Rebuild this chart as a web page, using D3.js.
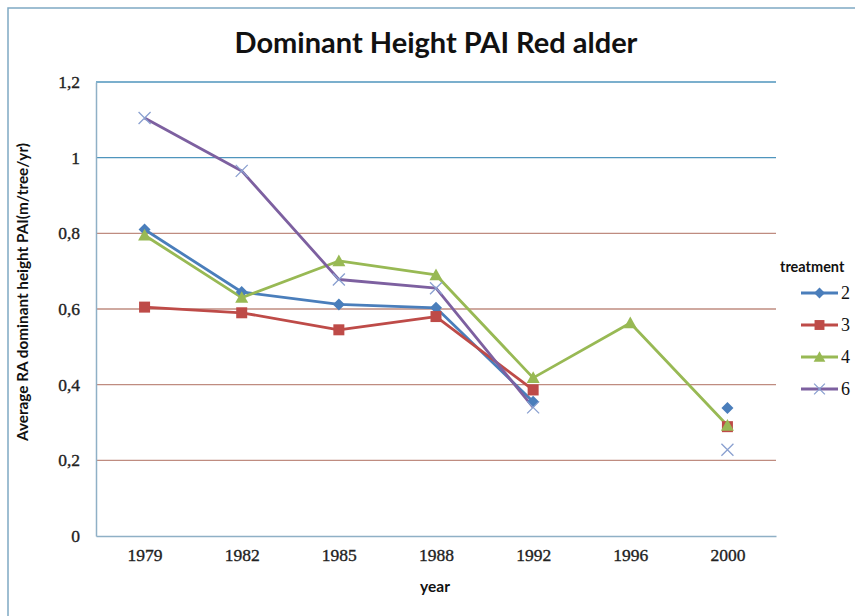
<!DOCTYPE html>
<html><head><meta charset="utf-8">
<script src="https://cdn.jsdelivr.net/npm/d3@7"></script>
<style>body{margin:0;background:#fff}</style>
</head><body>
<svg id="c" width="855" height="616"></svg>
<script>
const years = ["1979","1982","1985","1988","1992","1996","2000"];
const t2 = [0.81, 0.645, 0.612, 0.603, 0.355, null, 0.338];
const t3 = [0.605, 0.59, 0.545, 0.58, 0.386, null, 0.289];
const t4 = [0.795, 0.63, 0.727, 0.69, 0.418, 0.563, 0.292];
const t6 = [1.105, 0.965, 0.678, 0.655, 0.34, null, 0.228];
const seriesNames = ["2","3","4","6"];
const yTicks = [0, 0.2, 0.4, 0.6, 0.8, 1, 1.2];

const series = [
  {name: seriesNames[0], values: t2, color: "#4a7ebb", mcolor: "#4a7ebb", marker: "diamond"},
  {name: seriesNames[1], values: t3, color: "#be4b48", mcolor: "#be4b48", marker: "square"},
  {name: seriesNames[2], values: t4, color: "#98b954", mcolor: "#98b954", marker: "triangle"},
  {name: seriesNames[3], values: t6, color: "#7d60a0", mcolor: "#8aa0d0", marker: "x"}
];

const svg = d3.select("#c");
const L = 96, R = 776, T = 82, B = 536;
const x = d3.scalePoint().domain(years).range([L, R]).padding(0.5);
const y = d3.scaleLinear().domain([0, 1.2]).range([B, T]);

// outer frame
svg.append("rect").attr("x", 8).attr("y", 8).attr("width", 860).attr("height", 620)
  .attr("fill", "none").attr("stroke", "#7fa9c4").attr("stroke-width", 1.5);

// gridlines
svg.append("g").selectAll("line").data(yTicks.filter(d => d > 0)).join("line")
  .attr("x1", L).attr("x2", R).attr("y1", d => y(d)).attr("y2", d => y(d))
  .attr("stroke", d => d >= 1 ? "#4f95bd" : "#bf8c80").attr("stroke-width", 1.3);

// axes
const yAxis = d3.axisLeft(y).tickValues(yTicks).tickSize(0).tickPadding(16)
  .tickFormat(d => d3.format("")(+d.toFixed(1)).replace(".", ","));
const gy = svg.append("g").attr("transform", `translate(${L},0)`).call(yAxis);
gy.select(".domain").attr("stroke", "#8fb0c6").attr("stroke-width", 1.5);
gy.selectAll("text").attr("font-family", "Liberation Serif").attr("font-size", 17.5)
  .attr("fill", "#222").attr("stroke", "#222").attr("stroke-width", 0.35);

const xAxis = d3.axisBottom(x).tickSize(0).tickPadding(13);
const gx = svg.append("g").attr("transform", `translate(0,${B})`).call(xAxis);
gx.select(".domain").attr("stroke", "#8fb0c6").attr("stroke-width", 1.5);
gx.selectAll("text").attr("font-family", "Liberation Serif").attr("font-size", 17.5)
  .attr("fill", "#222").attr("stroke", "#222").attr("stroke-width", 0.35);

// lines
const line = d3.line().defined(d => d.v != null).x(d => x(d.yr)).y(d => y(d.v));
series.forEach(s => {
  const pts = years.map((yr, i) => ({yr, v: s.values[i]}));
  svg.append("path").datum(pts).attr("d", line).attr("fill", "none")
    .attr("stroke", s.color).attr("stroke-width", 2.8).attr("stroke-linejoin", "round");
});

function drawMarker(g, type, cx, cy, color, sc) {
  sc = sc || 1;
  if (type === "diamond") {
    const r = 6 * sc;
    g.append("path").attr("d", `M${cx},${cy-r}L${cx+r},${cy}L${cx},${cy+r}L${cx-r},${cy}Z`).attr("fill", color);
  } else if (type === "square") {
    const r = 5.5 * sc;
    g.append("rect").attr("x", cx - r).attr("y", cy - r).attr("width", 2*r).attr("height", 2*r).attr("fill", color);
  } else if (type === "triangle") {
    const r = 6.5 * sc;
    g.append("path").attr("d", `M${cx},${cy-r}L${cx+r},${cy+r*0.8}L${cx-r},${cy+r*0.8}Z`).attr("fill", color);
  } else {
    const r = 6 * sc;
    g.append("path").attr("d", `M${cx-r},${cy-r}L${cx+r},${cy+r}M${cx-r},${cy+r}L${cx+r},${cy-r}`)
      .attr("stroke", color).attr("stroke-width", 1.3).attr("fill", "none");
  }
}

const mg = svg.append("g");
series.forEach(s => {
  s.values.forEach((v, i) => {
    if (v == null) return;
    drawMarker(mg, s.marker, x(years[i]), y(v), s.mcolor);
  });
});

// title
svg.append("text").attr("x", 436).attr("y", 53).attr("text-anchor", "middle")
  .attr("font-family", "Lato").attr("font-weight", "bold").attr("font-size", 29)
  .attr("fill", "#111").text("Dominant Height PAI Red alder");

// axis titles
svg.append("text").attr("transform", "translate(28,292) rotate(-90)").attr("text-anchor", "middle")
  .attr("font-family", "Lato").attr("font-weight", "bold").attr("font-size", 15.3)
  .attr("fill", "#111").text("Average RA dominant height PAI(m/tree/yr)");
svg.append("text").attr("x", 435).attr("y", 592).attr("text-anchor", "middle")
  .attr("font-family", "Lato").attr("font-weight", "bold").attr("font-size", 15.5)
  .attr("fill", "#111").text("year");

// legend
svg.append("text").attr("x", 780).attr("y", 272)
  .attr("font-family", "Lato").attr("font-weight", "bold").attr("font-size", 14.5)
  .attr("fill", "#111").text("treatment");
const legY = d3.scalePoint().domain(seriesNames).range([293, 389]);
series.forEach(s => {
  const ly = legY(s.name);
  const lg = svg.append("g");
  lg.append("line").attr("x1", 801).attr("x2", 838).attr("y1", ly).attr("y2", ly)
    .attr("stroke", s.color).attr("stroke-width", 2.8);
  drawMarker(lg, s.marker, 819.5, ly, s.mcolor, 0.9);
  lg.append("text").attr("x", 841).attr("y", ly + 6)
    .attr("font-family", "Liberation Serif").attr("font-size", 18)
    .attr("fill", "#111").text(s.name);
});
</script>
</body></html>
